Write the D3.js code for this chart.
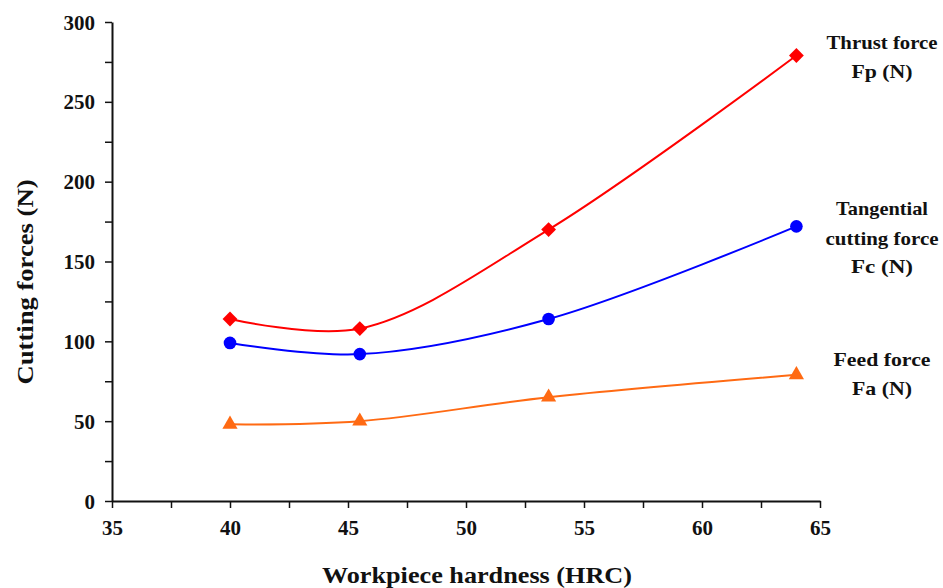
<!DOCTYPE html>
<html><head><meta charset="utf-8">
<script src="https://cdn.jsdelivr.net/npm/d3@7"></script>
<style>body{margin:0;background:#fff}svg{display:block}text{font-family:"Liberation Serif","Times New Roman",serif;font-weight:bold;fill:#111}</style>
</head><body><svg id="c" width="943" height="588"></svg>
<script>
const hardness = [40, 45.5, 53.5, 64];
const thrustForce = [114, 108, 170, 279];
const tangentialForce = [99, 92, 114, 172];
const feedForce = [48, 50, 65, 79];
const xTicks = [35, 40, 45, 50, 55, 60, 65];
const yTicks = [0, 50, 100, 150, 200, 250, 300];
const seriesLabels = [["Thrust force", "Fp (N)"], ["Tangential", "cutting force", "Fc (N)"], ["Feed force", "Fa (N)"]];

const FONT = '"Liberation Serif","Times New Roman",serif';
const svg = d3.select("#c");
const x = d3.scaleLinear().domain([35, 65]).range([112, 820]);
const y = d3.scaleLinear().domain([0, 300]).range([501, 22]);

const xAxis = d3.axisBottom(x).tickValues(d3.range(35, 65.01, 2.5)).tickSize(7).tickSizeOuter(0)
  .tickFormat(d => xTicks.includes(d) ? d : "");
const yAxis = d3.axisLeft(y).tickValues(d3.range(0, 300.01, 25)).tickSize(7).tickSizeOuter(0)
  .tickFormat(d => yTicks.includes(d) ? d : "");

const gx = svg.append("g").attr("transform", "translate(0,501)").call(xAxis);
const gy = svg.append("g").attr("transform", "translate(112,0)").call(yAxis);
[gx, gy].forEach(g => {
  g.attr("font-family", FONT).attr("font-size", 21);
  g.select(".domain").attr("stroke", "#111").attr("stroke-width", 2);
  g.selectAll(".tick line").attr("stroke", "#111").attr("stroke-width", 1.5);
  g.selectAll(".tick text").style("font-family", FONT).style("font-weight", "bold")
    .style("font-size", "21px").attr("fill", "#111");
});
gx.selectAll(".tick text").attr("dy", "0").attr("y", 34);
gy.selectAll(".tick text").attr("x", -17).attr("dy", "0.34em");

svg.append("text").attr("x", 477).attr("y", 583).attr("text-anchor", "middle").style("font-size", "23px")
  .attr("textLength", 310).attr("lengthAdjust", "spacingAndGlyphs")
  .text("Workpiece hardness (HRC)");
svg.append("text").attr("transform", "translate(33,282) rotate(-90)").attr("text-anchor", "middle").style("font-size", "23px")
  .attr("textLength", 205).attr("lengthAdjust", "spacingAndGlyphs")
  .text("Cutting forces (N)");

const series = [
  {vals: thrustForce, color: "#ff0000", marker: d3.symbolSquare, size: 110, rot: 45},
  {vals: tangentialForce, color: "#0000ff", marker: d3.symbolCircle, size: 125, rot: 0},
  {vals: feedForce, color: "#ff6a13", marker: d3.symbolTriangle, size: 100, rot: 0}
];
const line = d3.line().x(d => x(d[0])).y(d => y(d[1])).curve(d3.curveCatmullRom.alpha(0.5));
series.forEach(s => {
  const pts = hardness.map((h, i) => [h, s.vals[i]]);
  svg.append("path").attr("d", line(pts)).attr("fill", "none").attr("stroke", s.color).attr("stroke-width", 2);
  svg.selectAll(null).data(pts).enter().append("path")
    .attr("d", d3.symbol(s.marker, s.size))
    .attr("transform", d => `translate(${x(d[0])},${y(d[1])}) rotate(${s.rot})`)
    .attr("fill", s.color);
});

const labelBase = [[49, 78], [215, 245, 273], [366, 395]];
const labelLen = [[111, 61], [92, 113, 62], [97, 60]];
seriesLabels.forEach((lines, i) => {
  lines.forEach((t, j) => {
    svg.append("text").attr("x", 882).attr("y", labelBase[i][j]).attr("text-anchor", "middle")
      .style("font-size", "19px").attr("textLength", labelLen[i][j]).attr("lengthAdjust", "spacingAndGlyphs")
      .text(t);
  });
});
</script></body></html>
